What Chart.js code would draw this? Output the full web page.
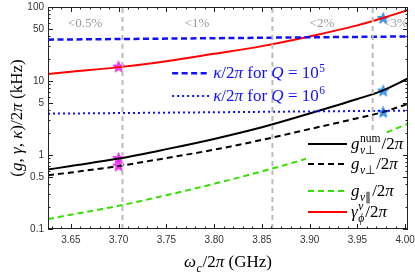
<!DOCTYPE html>
<html>
<head>
<meta charset="utf-8">
<script src="https://cdn.jsdelivr.net/npm/chart.js@4.4.0/dist/chart.umd.min.js"></script>
<style>
html, body { margin: 0; padding: 0; background: #fff; }
#wrap { width: 415px; height: 274px; position: relative; }
</style>
</head>
<body>
<div id="wrap"><canvas id="chart"></canvas></div>
<script>
// cavity frequency grid (GHz) and rates (kHz)
const freqGHz  = [3.626, 3.65, 3.70, 3.75, 3.80, 3.85, 3.90, 3.95, 3.975, 4.003];
const gNumPerp = [0.636, 0.71, 0.895, 1.20, 1.65, 2.37, 3.64, 5.71, 7.3, 10.8];
const gPerp    = [0.533, 0.58, 0.71, 0.91, 1.18, 1.60, 2.24, 3.14, 3.75, 4.9];
const gPar     = [0.136, 0.156, 0.206, 0.286, 0.408, 0.601, 0.918, 1.49, 1.9, 2.65];
const gammaPhi = [12.4, 13.3, 15.4, 18.5, 23.3, 29.6, 40.0, 56.4, 69.8, 91];

const kappaFreq = [3.626, 4.003];
const kappaQ5 = [36.2, 40.0];
const kappaQ6 = [3.62, 3.98];

const magentaFreq = 3.70;
const magentaStars = [15.4, 0.895, 0.71];
const blueFreq = 3.977;
const blueStars = [69.8, 7.3, 3.75];

const cutFreq = [3.704, 3.861, 3.966];
const cutLabels = ["<0.5%", "<1%", "<2%", "<3%"];
const cutLabelFreq = [3.665, 3.782, 3.913, 3.990];

const xTicks = [3.65, 3.70, 3.75, 3.80, 3.85, 3.90, 3.95, 4.00];
const yTicks = [0.1, 0.5, 1, 5, 10, 50, 100];

const pts = (xs, ys) => ys.map((y, i) => ({ x: xs[i], y }));

function makeStar(fill, stroke) {
  const c = document.createElement("canvas");
  c.width = c.height = 15;
  const g = c.getContext("2d");
  g.beginPath();
  for (let k = 0; k < 10; k++) {
    const r = k % 2 ? 2.5 : 6;
    const a = -Math.PI / 2 + k * Math.PI / 5;
    const px = 7.5 + r * Math.cos(a), py = 7.5 + r * Math.sin(a);
    if (k) g.lineTo(px, py); else g.moveTo(px, py);
  }
  g.closePath();
  g.fillStyle = fill;
  g.fill();
  g.strokeStyle = stroke;
  g.lineWidth = 0.8;
  g.stroke();
  return c;
}

// small rich text helper for italics, sub- and superscripts
const SERIF = '"Liberation Serif", "Times New Roman", serif';
const T = (t) => ({ t });
const I = (t) => ({ t, it: true });
function fontFor(size, it) { return (it ? "italic " : "") + size + "px " + SERIF; }
function runWidth(ctx, r, size) {
  if (r.sub || r.sup) {
    const ss = size * 0.68;
    const a = r.sub ? runsWidth(ctx, r.sub, ss) : 0;
    const b = r.sup ? runsWidth(ctx, r.sup, ss) : 0;
    return Math.max(a, b) + 1.5;
  }
  ctx.font = fontFor(size, r.it);
  return ctx.measureText(r.t).width;
}
function runsWidth(ctx, runs, size) {
  let w = 0;
  for (const r of runs) w += runWidth(ctx, r, size);
  return w;
}
function drawRuns(ctx, runs, x, y, size) {
  for (const r of runs) {
    if (r.sub || r.sup) {
      const ss = size * 0.68;
      if (r.sub) drawRuns(ctx, r.sub, x + 0.5, y + size * 0.27, ss);
      if (r.sup) drawRuns(ctx, r.sup, x + 0.5, y - size * 0.4, ss);
    } else {
      ctx.font = fontFor(size, r.it);
      ctx.fillText(r.t, x, y);
    }
    x += runWidth(ctx, r, size);
  }
}

const yTitle = [T("("), I("g"), T(", "), I("γ"), T(", "), I("κ"), T(")/2"), I("π"), T(" (kHz)")];
const xTitle = [I("ω"), { sub: [I("c")] }, T("/2"), I("π"), T(" (GHz)")];
const kappaNotes = [
  { runs: [I("κ"), T("/2"), I("π"), T(" for "), I("Q"), T(" = 10"), { sup: [T("5")] }], dash: [6, 3.5], width: 2.5, y: 12.7 },
  { runs: [I("κ"), T("/2"), I("π"), T(" for "), I("Q"), T(" = 10"), { sup: [T("6")] }], dash: [2, 3], width: 2, y: 6.25 }
];
const kappaNoteFreq = 3.756;
const legendItems = [
  { runs: [I("g"), { sub: [I("ν"), T("⊥")], sup: [T("num")] }, T("/2"), I("π")], color: "#000", dash: [], dy: -85 },
  { runs: [I("g"), { sub: [I("ν"), T("⊥")] }, T("/2"), I("π")], color: "#000", dash: [6, 4], dy: -65 },
  { runs: [I("g"), { sub: [I("ν"), T("∥")] }, T("/2"), I("π")], color: "#33e000", dash: [6, 4], dy: -38 },
  { runs: [I("γ"), { sub: [I("ϕ")], sup: [I("ν")] }, T("/2"), I("π")], color: "#ff0000", dash: [], dy: -17 }
];

const decorations = {
  id: "decorations",
  afterDatasetsDraw(chart) {
    const ctx = chart.ctx;
    const a = chart.chartArea;
    const xs = chart.scales.x, ys = chart.scales.y;
    ctx.save();

    // percentage labels
    ctx.fillStyle = "#999";
    ctx.font = "13px " + SERIF;
    ctx.textAlign = "center";
    ctx.textBaseline = "middle";
    cutLabels.forEach((s, i) => ctx.fillText(s, xs.getPixelForValue(cutLabelFreq[i]), a.top + 17));

    // kappa notes
    ctx.textAlign = "left";
    ctx.textBaseline = "alphabetic";
    const nx = xs.getPixelForValue(kappaNoteFreq);
    kappaNotes.forEach((n) => {
      const ny = ys.getPixelForValue(n.y);
      ctx.strokeStyle = "#1010ff";
      ctx.lineWidth = n.width;
      ctx.setLineDash(n.dash);
      ctx.beginPath();
      ctx.moveTo(nx, ny);
      ctx.lineTo(nx + 38, ny);
      ctx.stroke();
      ctx.setLineDash([]);
      ctx.fillStyle = "#1010ff";
      drawRuns(ctx, n.runs, nx + 41, ny + 5, 17);
    });

    // legend box
    ctx.fillStyle = "#fff";
    ctx.fillRect(a.right - 102, a.top + 126, 101, a.bottom - a.top - 127);
    legendItems.forEach((it) => {
      const ly = a.bottom + it.dy;
      ctx.strokeStyle = it.color;
      ctx.lineWidth = 2;
      ctx.setLineDash(it.dash);
      ctx.beginPath();
      ctx.moveTo(a.right - 100, ly);
      ctx.lineTo(a.right - 61, ly);
      ctx.stroke();
      ctx.setLineDash([]);
      ctx.fillStyle = "#000";
      drawRuns(ctx, it.runs, a.right - 57, ly + 5, 17);
    });

    // frame and inward ticks on all sides
    ctx.strokeStyle = "#222";
    ctx.lineWidth = 1;
    ctx.strokeRect(a.left + 0.5, a.top + 0.5, a.right - a.left - 1, a.bottom - a.top - 1);
    ctx.beginPath();
    for (let k = 363; k <= 400; k++) {
      const v = k / 100;
      const px = Math.round(xs.getPixelForValue(v)) + 0.5;
      const len = k % 5 === 0 ? 5 : 2.5;
      ctx.moveTo(px, a.bottom); ctx.lineTo(px, a.bottom - len);
      ctx.moveTo(px, a.top); ctx.lineTo(px, a.top + len);
    }
    [0.1, 1, 10].forEach((d) => {
      for (let k = 1; k <= 10; k++) {
        const v = d * k;
        const py = Math.round(ys.getPixelForValue(v)) + 0.5;
        const len = (k === 1 || k === 5 || k === 10) ? 5 : 2.5;
        ctx.moveTo(a.left, py); ctx.lineTo(a.left + len, py);
        ctx.moveTo(a.right, py); ctx.lineTo(a.right - len, py);
      }
    });
    ctx.stroke();

    // axis titles
    ctx.fillStyle = "#000";
    const xw = runsWidth(ctx, xTitle, 17);
    drawRuns(ctx, xTitle, (a.left + a.right) / 2 - xw / 2, 267, 17);
    ctx.translate(17, (a.top + a.bottom) / 2);
    ctx.rotate(-Math.PI / 2);
    const yw = runsWidth(ctx, yTitle, 17);
    drawRuns(ctx, yTitle, -yw / 2, 5, 17);
    ctx.restore();
  }
};

const lineSet = (data, color, dash, width) => ({
  data, borderColor: color, backgroundColor: color, borderDash: dash, borderWidth: width,
  pointRadius: 0, cubicInterpolationMode: "monotone", fill: false
});

const datasets = [
  ...cutFreq.map((f) => lineSet([{ x: f, y: 0.1 }, { x: f, y: 100 }], "#bbbbbb", [5, 4], 2)),
  lineSet(pts(kappaFreq, kappaQ5), "#1010ff", [6, 3.5], 2.5),
  lineSet(pts(kappaFreq, kappaQ6), "#1010ff", [2, 3], 2),
  lineSet(pts(freqGHz, gPar), "#33e000", [6, 4], 2),
  lineSet(pts(freqGHz, gPerp), "#000000", [6, 4], 2),
  lineSet(pts(freqGHz, gNumPerp), "#000000", [], 2),
  lineSet(pts(freqGHz, gammaPhi), "#ff0000", [], 2),
  {
    data: magentaStars.map((y) => ({ x: magentaFreq, y })),
    showLine: false, pointStyle: makeStar("#ff40ff", "#e000e0"), pointRadius: 6
  },
  {
    data: blueStars.map((y) => ({ x: blueFreq, y })),
    showLine: false, pointStyle: makeStar("#3a9cff", "#1a7fe0"), pointRadius: 6
  }
];

const tickFont = { family: '"Liberation Sans", Arial, sans-serif', size: 10 };

new Chart(document.getElementById("chart"), {
  type: "line",
  data: { datasets },
  options: {
    responsive: true,
    maintainAspectRatio: false,
    animation: false,
    layout: { padding: { left: 0, right: 6, top: 5, bottom: 0 } },
    plugins: { legend: { display: false }, tooltip: { enabled: false } },
    scales: {
      x: {
        type: "linear", min: 3.626, max: 4.003,
        grid: { display: false, drawTicks: false },
        border: { display: false },
        ticks: { font: tickFont, color: "#333", padding: 5, autoSkip: false, maxRotation: 0,
                 callback: (v) => v.toFixed(2) },
        afterBuildTicks: (s) => { s.ticks = xTicks.map((v) => ({ value: v })); },
        afterFit: (s) => { s.height = 45; s.paddingLeft = 0; s.paddingRight = 0; }
      },
      y: {
        type: "logarithmic", min: 0.1, max: 100,
        grid: { display: false, drawTicks: false },
        border: { display: false },
        ticks: { font: tickFont, color: "#333", padding: 4, autoSkip: false,
                 callback: (v) => String(v) },
        afterBuildTicks: (s) => { s.ticks = yTicks.map((v) => ({ value: v })); },
        afterFit: (s) => { s.width = 48; s.paddingTop = 0; s.paddingBottom = 0; }
      }
    }
  },
  plugins: [decorations]
});
</script>
</body>
</html>
